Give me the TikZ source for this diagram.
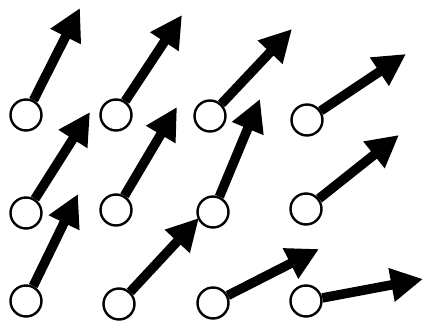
\documentclass[tikz,border=0pt]{standalone}
\usepackage{tikz}
\usetikzlibrary{arrows.meta}
\tikzset{
  Spin/.style={draw, circle, line width=2.4pt, minimum size=31pt,
               inner sep=0pt, fill=white},
  Sarr/.style={-{Triangle[length=32pt, width=32pt]}, line width=9.5pt}
}

\begin{document}
\begin{tikzpicture}[x=1pt, y=-1pt]
  \useasboundingbox (0,0) rectangle (424,323);

  \node[Spin] (c11) at (26,115) {};
  \node[Spin] (c12) at (116,115) {};
  \node[Spin] (c13) at (210,116) {};
  \node[Spin] (c14) at (307,120) {};

  \node[Spin] (c21) at (26,213) {};
  \node[Spin] (c22) at (116,210) {};
  \node[Spin] (c23) at (213,212) {};
  \node[Spin] (c24) at (306,209) {};

  \node[Spin] (c31) at (26,301) {};
  \node[Spin] (c32) at (119,304) {};
  \node[Spin] (c33) at (213,303) {};
  \node[Spin] (c34) at (306,301) {};

  \coordinate (t11) at (80,8);
  \coordinate (t12) at (182,15);
  \coordinate (t13) at (292,29);
  \coordinate (t14) at (406,54);
  \coordinate (t21) at (90,112);
  \coordinate (t22) at (177,107);
  \coordinate (t23) at (260,99);
  \coordinate (t24) at (399,135);
  \coordinate (t31) at (78,194);
  \coordinate (t32) at (199,218);
  \coordinate (t33) at (319,249);
  \coordinate (t34) at (423,279);

  \draw[Sarr] (c11)--(t11);
  \draw[Sarr] (c12)--(t12);
  \draw[Sarr] (c13)--(t13);
  \draw[Sarr] (c14)--(t14);
  \draw[Sarr] (c21)--(t21);
  \draw[Sarr] (c22)--(t22);
  \draw[Sarr] (c23)--(t23);
  \draw[Sarr] (c24)--(t24);
  \draw[Sarr] (c31)--(t31);
  \draw[Sarr] (c32)--(t32);
  \draw[Sarr] (c33)--(t33);
  \draw[Sarr] (c34)--(t34);
\end{tikzpicture}
\end{document}
